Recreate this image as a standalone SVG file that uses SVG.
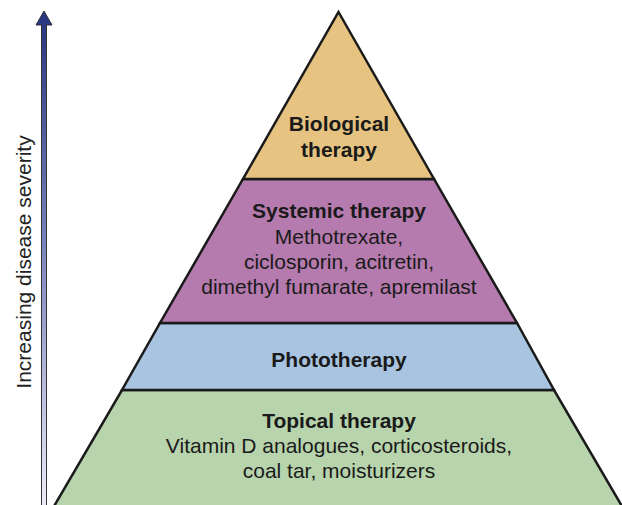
<svg xmlns="http://www.w3.org/2000/svg" width="622" height="505" viewBox="0 0 622 505">
<defs>
<linearGradient id="sev" x1="0" y1="0" x2="0" y2="1">
<stop offset="0" stop-color="#27357f"/>
<stop offset="0.5" stop-color="#8088c0"/>
<stop offset="1" stop-color="#ececf8"/>
</linearGradient>
</defs>
<style>
.t{font-family:"Liberation Sans",Arial,sans-serif;font-size:21px;fill:#1a1a1a;text-anchor:middle}
.b{font-weight:bold}
.band{stroke:#1a1a1a;stroke-width:2.5;stroke-linejoin:miter}
</style>
<rect width="622" height="505" fill="#fff"/>
<g id="connectors">
<path d="M41.5 505 V25 H36 L44 11 L52 25 H46.5 V505" fill="url(#sev)" stroke="#333" stroke-width="1"/>
</g>
<g id="axis-label">
<text class="t" transform="translate(31 262) rotate(-90)" style="fill:#222">Increasing disease severity</text>
</g>
<g id="topical">
<polygon class="band" points="122,390 554,390 623,508 53,508" fill="#b8d4ac"/>
<text class="t b" x="339" y="428">Topical therapy</text>
<text class="t" x="339" y="453">Vitamin D analogues, corticosteroids,</text>
<text class="t" x="339" y="478">coal tar, moisturizers</text>
</g>
<g id="phototherapy">
<polygon class="band" points="160,323 517,323 554,390 122,390" fill="#a9c4e0"/>
<text class="t b" x="339" y="367">Phototherapy</text>
</g>
<g id="systemic">
<polygon class="band" points="243,179 434,179 517,323 160,323" fill="#b67bae"/>
<text class="t b" x="339" y="218">Systemic therapy</text>
<text class="t" x="339" y="244">Methotrexate,</text>
<text class="t" x="339" y="269">ciclosporin, acitretin,</text>
<text class="t" x="339" y="294">dimethyl fumarate, apremilast</text>
</g>
<g id="biological">
<polygon class="band" points="338.5,12 434,179 243,179" fill="#e6c381"/>
<text class="t b" x="339" y="131">Biological</text>
<text class="t b" x="339" y="157">therapy</text>
</g>
</svg>
